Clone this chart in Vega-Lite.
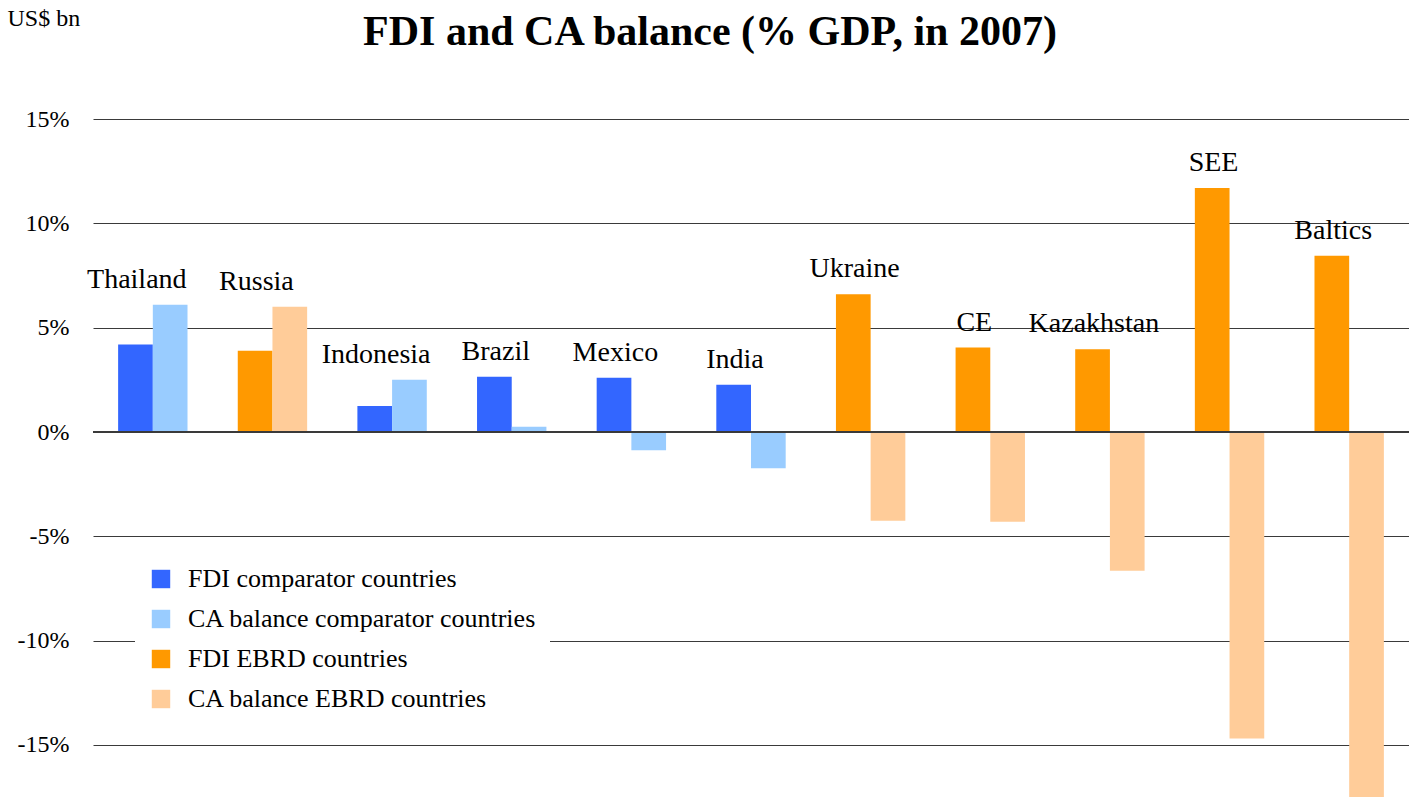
{
  "$schema": "https://vega.github.io/schema/vega-lite/v6.json",
  "width": 1316,
  "height": 730,
  "autosize": "none",
  "padding": {"left": 93, "top": 67, "right": 0, "bottom": 0},
  "background": "white",
  "title": {"text": "FDI and CA balance (% GDP, in 2007)", "font": "Liberation Serif", "fontSize": 42, "fontWeight": "bold", "color": "black", "anchor": "middle", "dx": -41, "dy": 63, "offset": 15},
  "config": {"view": {"stroke": null}},
  "data": {"values": [
    {"country": "Thailand", "measure": "FDI", "series": "FDI comparator countries", "value": 4.2},
    {"country": "Thailand", "measure": "CA", "series": "CA balance comparator countries", "value": 6.1},
    {"country": "Russia", "measure": "FDI", "series": "FDI EBRD countries", "value": 3.9},
    {"country": "Russia", "measure": "CA", "series": "CA balance EBRD countries", "value": 6.0},
    {"country": "Indonesia", "measure": "FDI", "series": "FDI comparator countries", "value": 1.25},
    {"country": "Indonesia", "measure": "CA", "series": "CA balance comparator countries", "value": 2.5},
    {"country": "Brazil", "measure": "FDI", "series": "FDI comparator countries", "value": 2.65},
    {"country": "Brazil", "measure": "CA", "series": "CA balance comparator countries", "value": 0.25},
    {"country": "Mexico", "measure": "FDI", "series": "FDI comparator countries", "value": 2.6},
    {"country": "Mexico", "measure": "CA", "series": "CA balance comparator countries", "value": -0.88},
    {"country": "India", "measure": "FDI", "series": "FDI comparator countries", "value": 2.27},
    {"country": "India", "measure": "CA", "series": "CA balance comparator countries", "value": -1.74},
    {"country": "Ukraine", "measure": "FDI", "series": "FDI EBRD countries", "value": 6.6},
    {"country": "Ukraine", "measure": "CA", "series": "CA balance EBRD countries", "value": -4.25},
    {"country": "CE", "measure": "FDI", "series": "FDI EBRD countries", "value": 4.05},
    {"country": "CE", "measure": "CA", "series": "CA balance EBRD countries", "value": -4.3},
    {"country": "Kazakhstan", "measure": "FDI", "series": "FDI EBRD countries", "value": 3.97},
    {"country": "Kazakhstan", "measure": "CA", "series": "CA balance EBRD countries", "value": -6.65},
    {"country": "SEE", "measure": "FDI", "series": "FDI EBRD countries", "value": 11.7},
    {"country": "SEE", "measure": "CA", "series": "CA balance EBRD countries", "value": -14.7},
    {"country": "Baltics", "measure": "FDI", "series": "FDI EBRD countries", "value": 8.45},
    {"country": "Baltics", "measure": "CA", "series": "CA balance EBRD countries", "value": -17.5}
  ]},
  "layer": [
    {
      "mark": {"type": "bar"},
      "encoding": {
        "x": {"field": "country", "type": "nominal", "sort": null, "scale": {"paddingInner": 0.42, "paddingOuter": 0.21}, "axis": null},
        "xOffset": {"field": "measure", "type": "nominal", "sort": ["FDI", "CA"], "scale": {"paddingInner": 0, "paddingOuter": 0}},
        "y": {
          "field": "value", "type": "quantitative",
          "scale": {"domain": [-17.5, 17.5], "nice": false},
          "axis": {
            "values": [-15, -10, -5, 0, 5, 10, 15],
            "labelExpr": "datum.value + '%'",
            "domain": false, "ticks": false, "grid": true, "gridColor": "#3a3a3a", "gridWidth": 1,
            "labelFontSize": 24, "labelFont": "Liberation Serif", "labelFontWeight": "normal", "labelColor": "black", "labelPadding": 24,
            "title": "US$ bn", "titleAngle": 0, "titleAlign": "left", "titleBaseline": "top",
            "titleX": -86, "titleY": -61, "titleFontSize": 24, "titleFontWeight": "normal",
            "titleFont": "Liberation Serif", "titleColor": "black"
          }
        },
        "color": {
          "field": "series", "type": "nominal",
          "scale": {
            "domain": ["FDI comparator countries", "CA balance comparator countries", "FDI EBRD countries", "CA balance EBRD countries"],
            "range": ["#3366FF", "#99CCFF", "#FF9900", "#FFCC99"]
          },
          "legend": {
            "orient": "none", "legendX": 42, "legendY": 486, "title": null,
            "fillColor": "white", "padding": 13,
            "symbolType": "square", "symbolSize": 340, "symbolStrokeWidth": 0, "symbolOpacity": 1,
            "labelFontSize": 26, "labelFont": "Liberation Serif", "labelFontWeight": "normal", "labelColor": "black",
            "labelOffset": 14, "rowPadding": 14, "labelLimit": 600
          }
        }
      }
    },
    {
      "mark": {"type": "rule", "color": "#3a3a3a", "strokeWidth": 1},
      "encoding": {"y": {"datum": 0}}
    },
    {
      "transform": [{"aggregate": [{"op": "max", "field": "value", "as": "top"}], "groupby": ["country"]}],
      "mark": {"type": "text", "fontSize": 28, "dx": -16, "dy": -17, "baseline": "alphabetic", "font": "Liberation Serif", "fontWeight": "normal", "color": "black"},
      "encoding": {
        "x": {"field": "country", "type": "nominal", "sort": null},
        "y": {"field": "top", "type": "quantitative"},
        "text": {"field": "country"}
      }
    }
  ]
}
